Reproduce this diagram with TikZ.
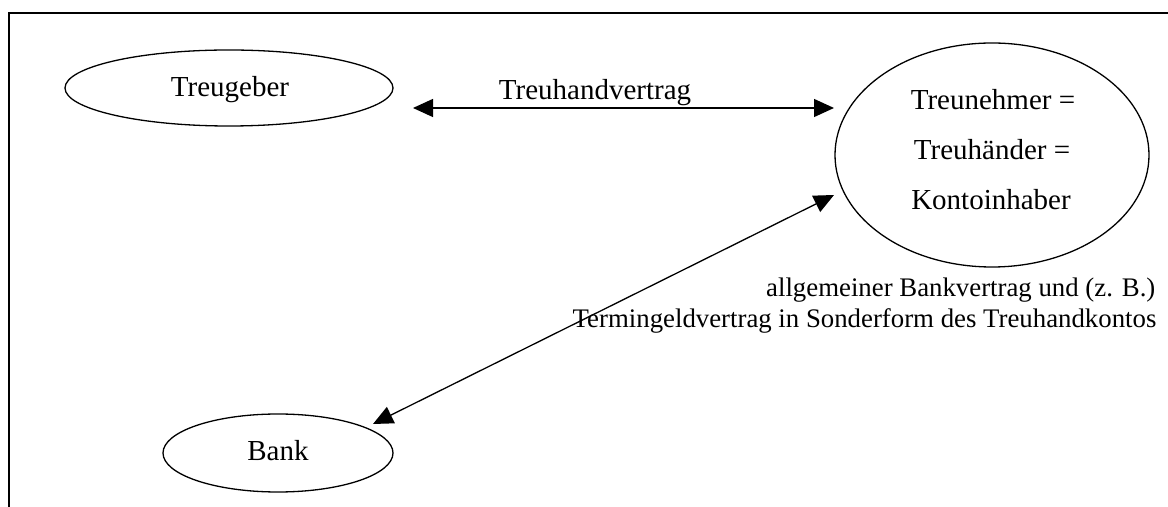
\documentclass[tikz,border=0pt]{standalone}
\usepackage{fontspec}
\setmainfont{Liberation Serif}
\usetikzlibrary{shapes.geometric,arrows.meta}
\begin{document}
\begin{tikzpicture}[x=0.5pt,y=-0.5pt,
  line width=0.65pt,
  txt/.style={font=\fontsize{14.5}{25}\selectfont, inner sep=0pt, anchor=base},
  smalltxt/.style={font=\fontsize{13.4}{20}\selectfont, inner sep=0pt, anchor=base east},
  party/.style={draw, ellipse, inner sep=0pt},
  contract/.style={{Triangle[length=10pt,width=9pt]}-{Triangle[length=10pt,width=9pt]}}]
\useasboundingbox (0,0) rectangle (1168,507);
% open frame: top and left edges only
\draw (1168,13) -- (9,13) -- (9,507);
% the three parties (sizes in pt = half the coordinate units)
\node[party, minimum width=164pt, minimum height=38pt] (tg) at (229,88) {};
\node[txt] (tglabel) at (230,97) {Treugeber};
\node[party, minimum width=115pt, minimum height=39pt] (bank) at (278,453) {};
\node[txt] (banklabel) at (278,461) {Bank};
\node[party, minimum width=157pt, minimum height=112pt] (tn) at (992,155) {};
\node[txt] (tnl1) at (993,110) {Treunehmer =};
\node[txt] (tnl2) at (992,160) {Treuhänder =};
\node[txt] (tnl3) at (991,210) {Kontoinhaber};
% arrow end points
\coordinate (a1) at (413,108);
\coordinate (a2) at (834,108);
\coordinate (b1) at (373,424);
\coordinate (b2) at (834,195);
% contracts
\draw[contract] (a1) -- (a2);
\node[txt] (trv) at (595,100) {Treuhandvertrag};
\draw[contract] (b1) -- (b2);
\node[smalltxt] (bv1) at (1156,297) {allgemeiner Bankvertrag und (z. B.)};
\node[smalltxt] (bv2) at (1157,328) {Termingeldvertrag in Sonderform des Treuhandkontos};
\end{tikzpicture}
\end{document}
